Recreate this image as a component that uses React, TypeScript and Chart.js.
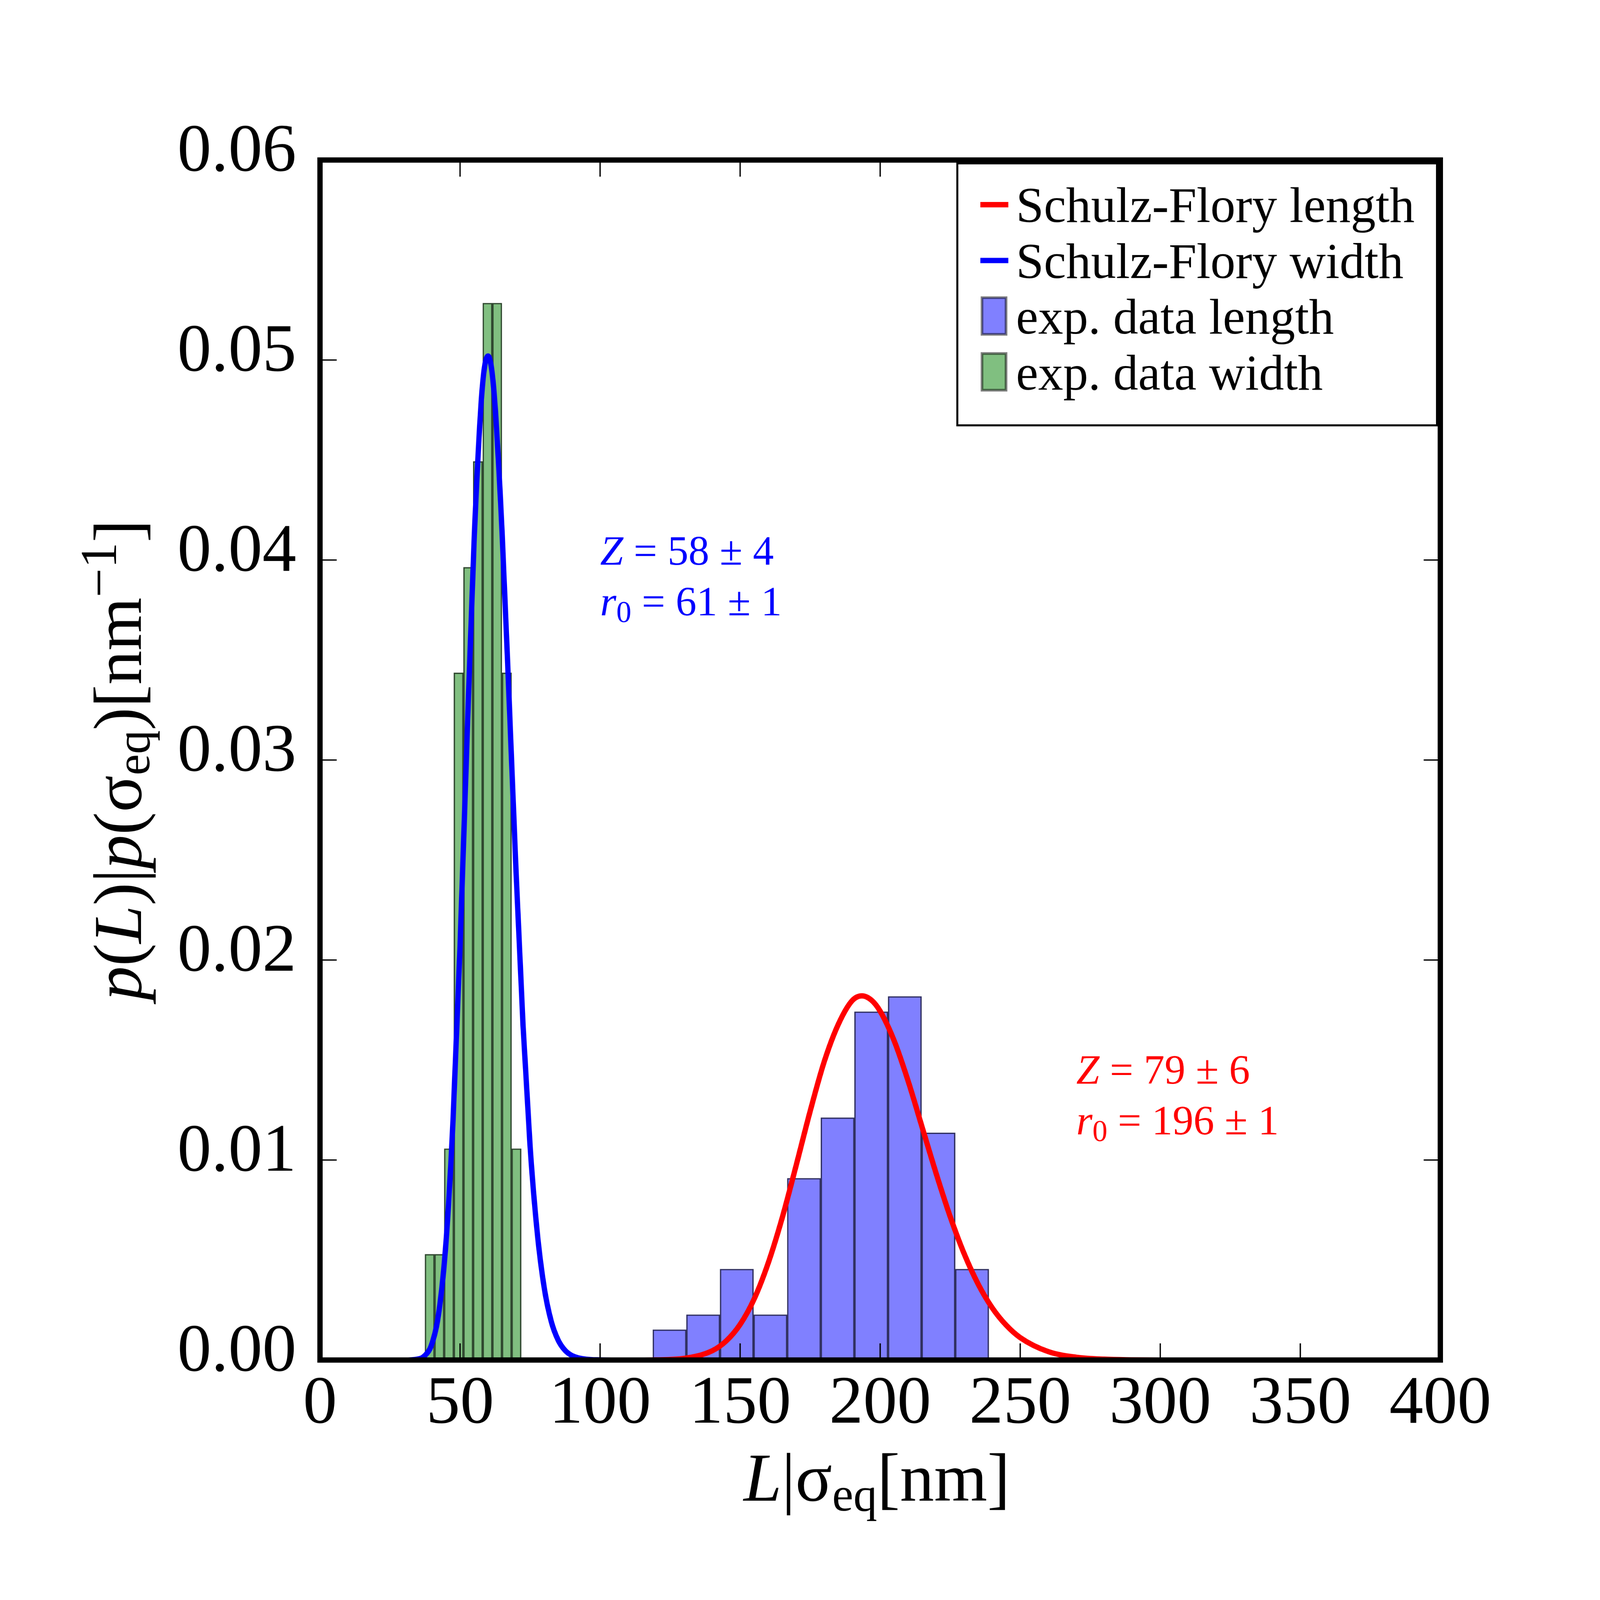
import { useEffect, useRef } from 'react';
import Chart from 'chart.js/auto';

const SERIF = '"Liberation Serif", "DejaVu Serif", serif';

// histogram of measured lengths (bin centres in nm, density in 1/nm)
const lengthBinCenters = [124.8, 136.8, 148.8, 160.8, 172.8, 184.8, 196.8, 208.8, 220.8, 232.8];
const lengthDensity = [0.00152, 0.00227, 0.00455, 0.00227, 0.00909, 0.01212, 0.01742, 0.01818, 0.01136, 0.00455];
const lengthBinWidth = 12;

// histogram of measured widths
const widthBinCenters = [39.17, 42.61, 46.05, 49.49, 52.93, 56.37, 59.81, 63.25, 66.69, 70.13];
const widthDensity = [0.00529, 0.00529, 0.01057, 0.03436, 0.03964, 0.04493, 0.05285, 0.05285, 0.03436, 0.01057];
const widthBinWidth = 3.44;

// Schulz-Flory fit curves
const lengthFitX = [0, 110, 120, 130, 140, 145, 150, 155, 160, 165, 170, 175, 180, 185, 190, 193.5, 197, 200, 205, 210, 215, 220, 225, 230, 235, 240, 245, 250, 260, 270, 280, 290, 300, 320, 400];
const lengthFitY = [0, 0, 0.00001, 0.00008, 0.00046, 0.00095, 0.00178, 0.00305, 0.00484, 0.0071, 0.00973, 0.01244, 0.01491, 0.01677, 0.01797, 0.01821, 0.01798, 0.01744, 0.01596, 0.01394, 0.01163, 0.00932, 0.00717, 0.00531, 0.00379, 0.00261, 0.00174, 0.00112, 0.00042, 0.00014, 0.00004, 0.00001, 0, 0, 0];

const widthFitX = [0, 30, 35, 37.5, 40, 42.5, 45, 47.5, 50, 52.5, 55, 57.5, 58.75, 60, 61.25, 62.5, 65, 67.5, 70, 72.5, 75, 77.5, 80, 82.5, 85, 87.5, 90, 95, 100, 110, 400];
const widthFitY = [0, 0, 0.00005, 0.00023, 0.00083, 0.00246, 0.00593, 0.01202, 0.0207, 0.0311, 0.0409, 0.0478, 0.04966, 0.0502, 0.04957, 0.0477, 0.0414, 0.0331, 0.0244, 0.0167, 0.0107, 0.00646, 0.00366, 0.00196, 0.001, 0.00048, 0.00022, 0.00004, 0.00001, 0, 0];

const legendLabels = ['Schulz-Flory length', 'Schulz-Flory width', 'exp. data length', 'exp. data width'];

type Run = { t: string; size: number; italic?: boolean; dy?: number };

const fontOf = (r: Run) => `${r.italic ? 'italic ' : ''}${r.size}px ${SERIF}`;

function drawRuns(ctx: CanvasRenderingContext2D, runs: Run[], x: number, y: number, center: boolean) {
  let w = 0;
  for (const r of runs) {
    ctx.font = fontOf(r);
    w += ctx.measureText(r.t).width;
  }
  let cx = center ? x - w / 2 : x;
  for (const r of runs) {
    ctx.font = fontOf(r);
    ctx.fillText(r.t, cx, y + (r.dy || 0));
    cx += ctx.measureText(r.t).width;
  }
}

const binPixels = (w: number) => (c: any) => {
  const xs = c.chart.scales.x;
  if (!xs || !xs.width) return 1;
  return Math.abs(xs.getPixelForValue(w) - xs.getPixelForValue(0));
};

const decorations = {
  id: 'decorations',
  afterDatasetsDraw(chart: any) {
    const { ctx, chartArea: a, scales } = chart;
    const xs = scales.x;
    const ys = scales.y;
    ctx.save();

    // inward ticks on all four sides
    ctx.strokeStyle = '#000';
    ctx.lineWidth = 4;
    ctx.beginPath();
    for (const t of ys.ticks) {
      const py = ys.getPixelForValue(t.value);
      ctx.moveTo(a.left, py); ctx.lineTo(a.left + 50, py);
      ctx.moveTo(a.right, py); ctx.lineTo(a.right - 50, py);
    }
    for (const t of xs.ticks) {
      const px = xs.getPixelForValue(t.value);
      ctx.moveTo(px, a.bottom); ctx.lineTo(px, a.bottom - 50);
      ctx.moveTo(px, a.top); ctx.lineTo(px, a.top + 50);
    }
    ctx.stroke();

    // frame
    ctx.lineWidth = 16;
    ctx.strokeRect(a.left, a.top, a.right - a.left, a.bottom - a.top);

    // legend
    const bw = 1439, bh = 786;
    const bx = a.right - 10 - bw, by = a.top + 10;
    ctx.fillStyle = '#fff';
    ctx.fillRect(bx, by, bw, bh);
    ctx.lineWidth = 6;
    ctx.strokeRect(bx, by, bw, bh);
    ctx.textAlign = 'left';
    ctx.textBaseline = 'alphabetic';
    chart.data.datasets.forEach((ds: any, i: number) => {
      const base = by + 176 + i * 167.5;
      if (ds.type === 'line') {
        ctx.strokeStyle = ds.borderColor;
        ctx.lineWidth = 16;
        ctx.beginPath();
        ctx.moveTo(bx + 69, base - 52);
        ctx.lineTo(bx + 153, base - 52);
        ctx.stroke();
      } else {
        ctx.fillStyle = ds.backgroundColor;
        ctx.fillRect(bx + 74, base - 108, 72, 110);
        ctx.strokeStyle = 'rgba(0,0,0,0.5)';
        ctx.lineWidth = 8;
        ctx.strokeRect(bx + 74, base - 108, 72, 110);
      }
      ctx.fillStyle = '#000';
      ctx.font = `150px ${SERIF}`;
      ctx.fillText(ds.label, bx + 176, base);
    });

    // fit parameters
    const note = (color: string, xv: number, yv: number, z: string, r0: string) => {
      ctx.fillStyle = color;
      const px = xs.getPixelForValue(xv);
      const py = ys.getPixelForValue(yv);
      drawRuns(ctx, [{ t: 'Z', size: 125, italic: true }, { t: ` = ${z}`, size: 125 }], px, py, false);
      drawRuns(ctx, [
        { t: 'r', size: 125, italic: true },
        { t: '0', size: 90, dy: 20 },
        { t: ` = ${r0}`, size: 125 },
      ], px, py + 152, false);
    };
    note('#0000ff', 100, 0.03977, '58 ± 4', '61 ± 1');
    note('#ff0000', 270, 0.01382, '79 ± 6', '196 ± 1');

    // axis titles
    ctx.fillStyle = '#000';
    drawRuns(ctx, [
      { t: 'L', size: 205, italic: true },
      { t: '|', size: 205 },
      { t: 'σ', size: 205 },
      { t: 'eq', size: 143, dy: 30 },
      { t: '[nm]', size: 205 },
    ], (a.left + a.right) / 2 - 10, a.bottom + 422, true);

    ctx.translate(a.left - 537, (a.top + a.bottom) / 2);
    ctx.rotate(-Math.PI / 2);
    drawRuns(ctx, [
      { t: 'p', size: 205, italic: true },
      { t: '(', size: 205 },
      { t: 'L', size: 205, italic: true },
      { t: ')|', size: 205 },
      { t: 'p', size: 205, italic: true },
      { t: '(', size: 205 },
      { t: 'σ', size: 205 },
      { t: 'eq', size: 143, dy: 25 },
      { t: ')[nm', size: 205 },
      { t: '−1', size: 155, dy: -75 },
      { t: ']', size: 205 },
    ], 0, 0, true);

    ctx.restore();
  },
};

export default function App() {
  const canvasRef = useRef<HTMLCanvasElement>(null);
  const side = Math.min(window.innerWidth, window.innerHeight);

  useEffect(() => {
    const canvas = canvasRef.current;
    if (!canvas) return;
    const chart = new Chart(canvas, {
      type: 'line',
      data: {
        datasets: [
          {
            type: 'line',
            label: legendLabels[0],
            data: lengthFitX.map((x, i) => ({ x, y: lengthFitY[i] })),
            borderColor: '#ff0000',
            borderWidth: 16,
            pointRadius: 0,
            cubicInterpolationMode: 'monotone',
            fill: false,
          },
          {
            type: 'line',
            label: legendLabels[1],
            data: widthFitX.map((x, i) => ({ x, y: widthFitY[i] })),
            borderColor: '#0000ff',
            borderWidth: 16,
            pointRadius: 0,
            cubicInterpolationMode: 'monotone',
            fill: false,
          },
          {
            type: 'bar',
            label: legendLabels[2],
            data: lengthBinCenters.map((x, i) => ({ x, y: lengthDensity[i] })),
            backgroundColor: '#8080ff',
            borderColor: '#303060',
            borderWidth: 4,
            grouped: false,
            barThickness: binPixels(lengthBinWidth),
          } as any,
          {
            type: 'bar',
            label: legendLabels[3],
            data: widthBinCenters.map((x, i) => ({ x, y: widthDensity[i] })),
            backgroundColor: '#80bf80',
            borderColor: '#304830',
            borderWidth: 4,
            grouped: false,
            barThickness: binPixels(widthBinWidth),
          } as any,
        ],
      },
      options: {
        responsive: false,
        maintainAspectRatio: false,
        devicePixelRatio: 1,
        animation: false,
        events: [],
        layout: { padding: { left: 0, top: 480, right: 479, bottom: 0 } },
        plugins: {
          legend: { display: false },
          tooltip: { enabled: false },
        },
        scales: {
          x: {
            type: 'linear',
            min: 0,
            max: 400,
            offset: false,
            grid: { display: false, drawTicks: false, tickLength: 0 },
            border: { display: false },
            ticks: {
              stepSize: 50,
              padding: 12,
              color: '#000',
              font: { family: SERIF, size: 204 },
              maxRotation: 0,
              autoSkip: false,
            },
            afterFit: (s: any) => { s.height = 720; },
          },
          y: {
            type: 'linear',
            min: 0,
            max: 0.06,
            grid: { display: false, drawTicks: false, tickLength: 0 },
            border: { display: false },
            ticks: {
              stepSize: 0.01,
              padding: 71,
              labelOffset: -22,
              color: '#000',
              font: { family: SERIF, size: 204 },
              callback: (v: any) => Number(v).toFixed(2),
            },
            afterFit: (s: any) => { s.width = 960; },
          },
        },
      },
      plugins: [decorations],
    });
    return () => chart.destroy();
  }, []);

  return (
    <div style={{ position: 'absolute', left: 0, top: 0, width: side, height: side, background: '#fff', overflow: 'hidden' }}>
      <canvas ref={canvasRef} width={4800} height={4800} style={{ width: side, height: side, display: 'block' }} />
    </div>
  );
}
